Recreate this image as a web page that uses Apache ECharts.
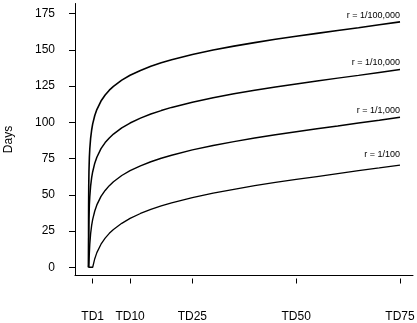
<!DOCTYPE html>
<html><head><meta charset="utf-8">
<script src="https://cdn.jsdelivr.net/npm/echarts@6/dist/echarts.min.js"></script>
<style>html,body{margin:0;padding:0;background:#fff}#c{width:417px;height:323px}</style>
</head><body><div id="c"></div>
<script>
// TD (x positions, percent)
const tdValues = [0, 0.001, 0.002, 0.005, 0.01, 0.02, 0.05, 0.1, 0.2, 0.3, 0.5, 0.75, 1, 1.5, 2, 3, 4, 5, 6, 8, 10, 12.5, 15, 17.5, 20, 25, 30, 35, 40, 45, 50, 55, 60, 65, 70, 75];
// Days for each r
const daysR100000 = [0, 0, 9.9, 23.0, 32.9, 42.8, 55.9, 65.9, 75.8, 81.6, 88.9, 94.7, 98.9, 104.7, 108.8, 114.7, 118.9, 122.2, 124.8, 129.1, 132.5, 135.8, 138.7, 141.1, 143.2, 146.8, 149.9, 152.6, 155.0, 157.3, 159.4, 161.4, 163.4, 165.3, 167.3, 169.3];
const daysR10000 = [0, 0, 0, 0, 0, 9.9, 23.0, 32.9, 42.9, 48.7, 56.0, 61.8, 65.9, 71.8, 75.9, 81.8, 86.0, 89.2, 91.9, 96.2, 99.5, 102.9, 105.7, 108.1, 110.3, 113.9, 117.0, 119.7, 122.1, 124.4, 126.5, 128.5, 130.5, 132.4, 134.4, 136.4];
const daysR1000 = [0, 0, 0, 0, 0, 0, 0, 0, 9.9, 15.7, 23.1, 28.9, 33.0, 38.8, 43.0, 48.9, 53.0, 56.3, 59.0, 63.3, 66.6, 70.0, 72.8, 75.2, 77.3, 81.0, 84.0, 86.7, 89.2, 91.4, 93.5, 95.6, 97.5, 99.5, 101.4, 103.5];
const daysR100 = [0, 0, 0, 0, 0, 0, 0, 0, 0, 0, 0, 0, 0, 5.9, 10.1, 15.9, 20.1, 23.4, 26.1, 30.3, 33.7, 37.1, 39.9, 42.3, 44.4, 48.0, 51.1, 53.8, 56.3, 58.5, 60.6, 62.6, 64.6, 66.6, 68.5, 70.5];
const seriesNames = ['r = 1/100,000', 'r = 1/10,000', 'r = 1/1,000', 'r = 1/100'];
const xTicks = [1, 10, 25, 50, 75];
const xTickLabels = ['TD1', 'TD10', 'TD25', 'TD50', 'TD75'];
const yTicks = [0, 25, 50, 75, 100, 125, 150, 175];

const font = '"Liberation Sans", Arial, Helvetica, sans-serif';
const allDays = [daysR100000, daysR10000, daysR1000, daysR100];
const widths = [1.6, 1.5, 1.4, 1.3];
const labelRise = [6.6, 6.7, 7, 10.5];
const last = tdValues.length - 1;

const chart = echarts.init(document.getElementById('c'), null, {renderer: 'canvas'});
chart.setOption({
  animation: false,
  backgroundColor: '#fff',
  grid: {left: 75, right: 4, top: 3.5, bottom: 47.5, containLabel: false, outerBoundsMode: 'none'},
  xAxis: [
    {type: 'value', min: -3.26, max: 78.13,
     axisLine: {show: true, onZero: false, lineStyle: {color: '#000', width: 1}},
     axisTick: {show: false}, axisLabel: {show: false}, splitLine: {show: false}},
    {type: 'value', min: -3.26, max: 78.13, position: 'bottom', offset: 3,
     axisLine: {show: false, onZero: false},
     axisTick: {show: true, length: 5, customValues: xTicks, lineStyle: {color: '#000', width: 1}},
     axisLabel: {show: true, customValues: xTicks, margin: 32, fontSize: 12, color: '#000', fontFamily: font,
       formatter: v => xTickLabels[xTicks.indexOf(v)] ?? ''},
     splitLine: {show: false}}
  ],
  yAxis: {type: 'value', min: -5.7, max: 182,
    axisLine: {show: true, onZero: false, lineStyle: {color: '#000', width: 1}},
    axisTick: {show: true, length: 6, customValues: yTicks, lineStyle: {color: '#000', width: 1}},
    axisLabel: {customValues: yTicks, margin: 20, fontSize: 12, color: '#000', fontFamily: font},
    splitLine: {show: false},
    name: 'Days', nameLocation: 'middle', nameGap: 60, nameMoveOverlap: false,
    nameTextStyle: {fontSize: 12, color: '#000', fontFamily: font}},
  series: allDays.map((arr, k) => ({
    type: 'line', name: seriesNames[k], xAxisIndex: 0,
    showSymbol: false, symbol: 'none', silent: true,
    lineStyle: {color: '#000', width: widths[k]},
    data: tdValues.map((x, i) => [x, arr[i]]),
    markPoint: {
      silent: true, symbol: 'circle', symbolSize: 0, animation: false,
      data: [{coord: [tdValues[last], arr[last]], value: seriesNames[k]}],
      label: {show: true, position: [0, -labelRise[k]], align: 'right', verticalAlign: 'middle',
        formatter: seriesNames[k], fontSize: 9, color: '#000', fontFamily: font}
    },
    emphasis: {disabled: true}
  }))
});
</script></body></html>
